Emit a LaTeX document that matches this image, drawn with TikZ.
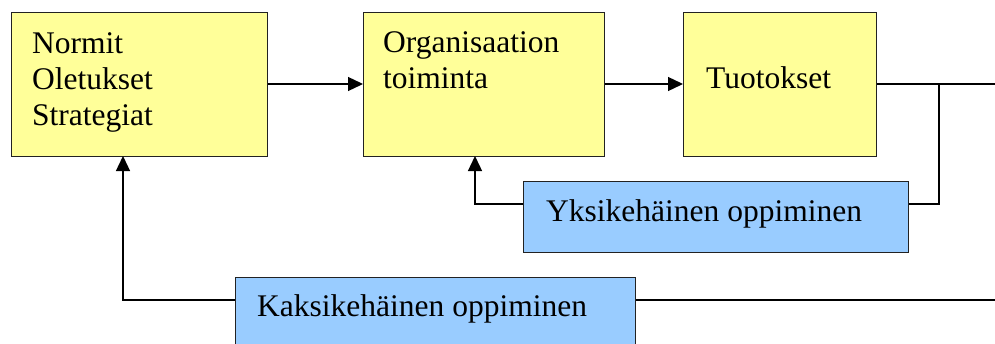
\documentclass[tikz,border=0pt]{standalone}
\usepackage{fontspec}
\setmainfont{Liberation Serif}
\usetikzlibrary{arrows.meta,calc}
\definecolor{boxyellow}{HTML}{FFFF99}
\definecolor{boxblue}{HTML}{99CCFF}
\definecolor{edge}{HTML}{222222}
\tikzset{
  yellowbox/.style={draw=edge, line width=1.3pt, fill=boxyellow, rectangle, inner sep=0pt, anchor=north west},
  bluebox/.style={draw=edge, line width=1.3pt, fill=boxblue, rectangle, inner sep=0pt, anchor=north west},
  txt/.style={anchor=base west, inner sep=0pt, align=left, font=\fontsize{31.5}{36}\selectfont},
  conn/.style={draw=black, line width=1.3pt},
  arr/.style={conn, -{Triangle[length=15pt,width=14pt]}}
}
\begin{document}
\begin{tikzpicture}[x=1pt,y=-1pt]
  \useasboundingbox (0,0) rectangle (995,343);
  \clip (0,0) rectangle (995,343);
  % process boxes
  \node[yellowbox, minimum width=256pt, minimum height=144pt] (nos) at (11,12) {};
  \node[yellowbox, minimum width=241pt, minimum height=144pt] (org) at (363,12) {};
  \node[yellowbox, minimum width=193pt, minimum height=144pt] (tuo) at (683,12) {};
  % learning loops
  \node[bluebox, minimum width=385pt, minimum height=71pt] (yks) at (523,181) {};
  \node[bluebox, minimum width=400pt, minimum height=80pt] (kak) at (235,277) {};
  % texts (base anchor sits on the last line)
  \node[txt] (t1) at (32,125) {Normit\\Oletukset\\Strategiat};
  \node[txt] (t2) at (383,88) {Organisaation\\toiminta};
  \node[txt] (t3) at (706,88) {Tuotokset};
  \node[txt] (t4) at (546,221) {Yksikehäinen oppiminen};
  \node[txt] (t5) at (257,316) {Kaksikehäinen oppiminen};
  % coordinates for the loop connectors
  \coordinate (outR) at (995,84);
  \coordinate (br) at (939,84);
  \coordinate (kakR) at (995,300);
  % main flow
  \draw[arr] (nos.east |- 0,84) -- (org.west |- 0,84);
  \draw[arr] (org.east |- 0,84) -- (tuo.west |- 0,84);
  \draw[conn] (tuo.east |- 0,84) -- (outR);
  % single-loop learning
  \draw[conn] (br) -- (939,204) -- (yks.east |- 0,204);
  \draw[arr] (yks.west |- 0,204) -- (475,204) -- (475,156);
  % double-loop learning
  \draw[conn] (kak.east |- 0,300) -- (kakR);
  \draw[arr] (kak.west |- 0,300) -- (123,300) -- (123,156);
\end{tikzpicture}
\end{document}
